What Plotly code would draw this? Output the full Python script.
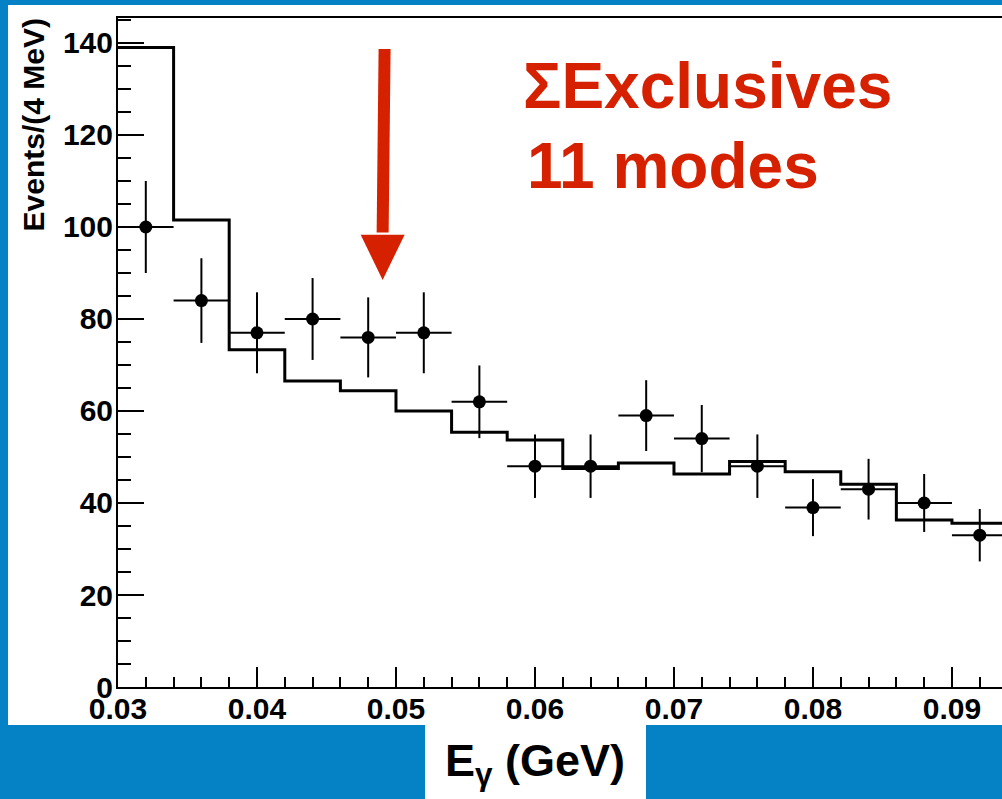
import plotly.graph_objects as go

# Photon energy spectrum, sum of exclusive modes
# Data points: bin centres (GeV), counts and statistical errors
e_gamma = [0.032, 0.036, 0.040, 0.044, 0.048, 0.052, 0.056, 0.060,
           0.064, 0.068, 0.072, 0.076, 0.080, 0.084, 0.088, 0.092]
events = [100, 84, 77, 80, 76, 77, 62, 48, 48, 59, 54, 48, 39, 43, 40, 33]
event_err = [10.0, 9.2, 8.8, 8.9, 8.7, 8.8, 7.9, 6.9,
             6.9, 7.7, 7.3, 6.9, 6.2, 6.6, 6.3, 5.7]
bin_half_width = 0.002

# Expectation histogram: bin edges (GeV) and contents
hist_edges = [0.030, 0.034, 0.038, 0.042, 0.046, 0.050, 0.054, 0.058, 0.062,
              0.066, 0.070, 0.074, 0.078, 0.082, 0.086, 0.090, 0.094]
hist_counts = [139.0, 101.5, 73.3, 66.5, 64.4, 60.0, 55.4, 53.7,
               47.5, 48.7, 46.3, 49.0, 46.8, 44.1, 36.3, 35.6]

# Arrow marking the region of interest (data coordinates)
ARROW_X_TOP, ARROW_X_TIP = 0.04918, 0.04904
ARROW_TOP, ARROW_HEAD_BASE, ARROW_TIP = 138.7, 98.3, 88.5
ARROW_HALF_HEAD = 0.00158

X_RANGE = [0.03, 0.0936]
Y_RANGE = [0, 145.43]

BLUE = "#0581c6"
RED = "#d62100"
FONT = "Liberation Sans"

W, H = 1002, 799
L, R, T, B = 118, 1002, 18, 687


def px_x(p):
    return (p - L) / (R - L)


def px_y(p):
    return (B - p) / (B - T)


fig = go.Figure()

# step histogram
fig.add_trace(go.Scatter(
    x=hist_edges,
    y=hist_counts + [hist_counts[-1]],
    mode="lines",
    line=dict(shape="hv", color="black", width=3),
    hoverinfo="skip",
    showlegend=False,
))

# data points with errors
fig.add_trace(go.Scatter(
    x=e_gamma,
    y=events,
    mode="markers",
    marker=dict(color="black", size=13),
    error_y=dict(type="data", array=event_err, color="black", thickness=2, width=0),
    error_x=dict(type="constant", value=bin_half_width, color="black", thickness=2, width=0),
    showlegend=False,
))

shapes = [
    # white panel
    dict(type="rect", xref="paper", yref="paper",
         x0=px_x(8), x1=px_x(1002), y0=px_y(725), y1=px_y(5),
         fillcolor="white", line=dict(width=0), layer="below"),
    # white box behind x-axis title
    dict(type="rect", xref="paper", yref="paper",
         x0=px_x(425), x1=px_x(646), y0=px_y(799), y1=px_y(725),
         fillcolor="white", line=dict(width=0), layer="below"),
    # arrow shaft
    dict(type="line", xref="x", yref="y",
         x0=ARROW_X_TOP, y0=ARROW_TOP, x1=ARROW_X_TIP, y1=ARROW_HEAD_BASE + 0.5,
         line=dict(color=RED, width=12)),
    # arrow head
    dict(type="path", xref="x", yref="y",
         path=(f"M {ARROW_X_TIP - ARROW_HALF_HEAD},{ARROW_HEAD_BASE} "
               f"L {ARROW_X_TIP + ARROW_HALF_HEAD},{ARROW_HEAD_BASE} "
               f"L {ARROW_X_TIP},{ARROW_TIP} Z"),
         fillcolor=RED, line=dict(width=0)),
]

annotations = [
    dict(text="ΣExclusives", xref="paper", yref="paper",
         x=px_x(521), y=px_y(86), xanchor="left", yanchor="middle",
         showarrow=False, font=dict(family=FONT, size=64, color=RED, weight="bold")),
    dict(text="11 modes", xref="paper", yref="paper",
         x=px_x(525), y=px_y(166), xanchor="left", yanchor="middle",
         showarrow=False, font=dict(family=FONT, size=64, color=RED, weight="bold")),
    dict(text="E<sub>γ</sub> (GeV)", xref="paper", yref="paper",
         x=px_x(535), y=px_y(763), xanchor="center", yanchor="middle",
         showarrow=False, font=dict(family=FONT, size=45, color="black", weight="bold")),
    dict(text="Events/(4 MeV)", xref="paper", yref="paper",
         x=px_x(33), y=px_y(125.5), xanchor="center", yanchor="middle", textangle=-90,
         showarrow=False, font=dict(family=FONT, size=30, color="black", weight="bold")),
]

fig.update_layout(
    width=W, height=H,
    margin=dict(l=L, r=W - R, t=T, b=H - B, pad=0),
    paper_bgcolor=BLUE,
    plot_bgcolor="white",
    shapes=shapes,
    annotations=annotations,
    showlegend=False,
)

fig.update_xaxes(
    range=X_RANGE, tick0=0.03, dtick=0.01, tickformat=".2f",
    ticks="inside", ticklen=20, tickwidth=2, tickcolor="black",
    minor=dict(dtick=0.002, ticks="inside", ticklen=10, tickwidth=2, tickcolor="black"),
    showline=True, linecolor="black", linewidth=2, mirror=True,
    showgrid=False, zeroline=False, ticklabelstandoff=-6,
    tickfont=dict(family=FONT, size=30, color="black", weight="bold"),
)

fig.update_yaxes(
    range=Y_RANGE, tick0=0, dtick=20,
    ticks="inside", ticklen=26, tickwidth=2, tickcolor="black",
    minor=dict(dtick=5, ticks="inside", ticklen=13, tickwidth=2, tickcolor="black"),
    showline=True, linecolor="black", linewidth=2,
    showgrid=False, zeroline=False, ticklabelstandoff=-3,
    tickfont=dict(family=FONT, size=30, color="black", weight="bold"),
)

fig.write_html("out.html")
